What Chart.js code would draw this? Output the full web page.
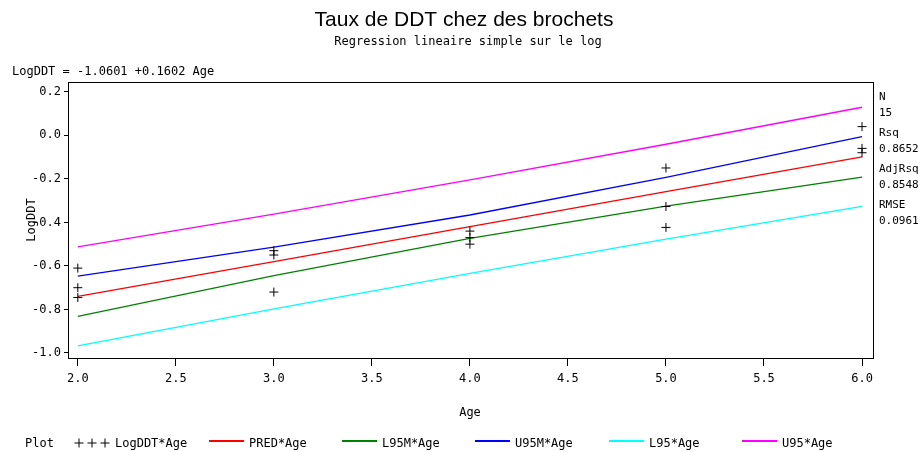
<!DOCTYPE html>
<html>
<head>
<meta charset="utf-8">
<script src="https://cdn.jsdelivr.net/npm/chart.js@4"></script>
<style>
  body { margin: 0; background: #fff; }
  #wrap { width: 920px; height: 452px; }
</style>
</head>
<body>
<div id="wrap"><canvas id="chart" width="920" height="452"></canvas></div>
<script>
var ages = [2, 2, 2, 3, 3, 3, 4, 4, 4, 5, 5, 5, 6, 6, 6];
var logDDT = [-0.61, -0.70, -0.745, -0.53, -0.55, -0.72, -0.44, -0.47, -0.50, -0.15, -0.327, -0.423, 0.04, -0.06, -0.08];

var fitAges = [2, 3, 4, 5, 6];
var pred = [-0.740, -0.580, -0.419, -0.259, -0.099];
var l95m = [-0.832, -0.645, -0.473, -0.325, -0.192];
var u95m = [-0.647, -0.514, -0.366, -0.193, -0.006];
var l95 = [-0.967, -0.797, -0.634, -0.477, -0.326];
var u95 = [-0.512, -0.362, -0.205, -0.041, 0.129];

var xTicks = [2.0, 2.5, 3.0, 3.5, 4.0, 4.5, 5.0, 5.5, 6.0];
var yTicks = [-1.0, -0.8, -0.6, -0.4, -0.2, 0.0, 0.2];

var statNames = ['N', 'Rsq', 'AdjRsq', 'RMSE'];
var statValues = ['15', '0.8652', '0.8548', '0.0961'];

var mono = '"DejaVu Sans Mono", monospace';

function toPoints(xs, ys) {
  return xs.map((x, i) => ({x: x, y: ys[i]}));
}

function fitLine(label, ys, color) {
  return {
    type: 'line',
    label: label,
    data: toPoints(fitAges, ys),
    borderColor: color,
    borderWidth: 1.3,
    pointRadius: 0,
    fill: false,
    tension: 0
  };
}

var legendItems = [
  {label: 'PRED*Age', color: '#ff0000', x: 209},
  {label: 'L95M*Age', color: '#008000', x: 342},
  {label: 'U95M*Age', color: '#0000ff', x: 475},
  {label: 'L95*Age', color: '#00ffff', x: 609},
  {label: 'U95*Age', color: '#ff00ff', x: 742}
];

function drawCross(ctx, x, y, r) {
  ctx.beginPath();
  ctx.moveTo(x - r, y);
  ctx.lineTo(x + r, y);
  ctx.moveTo(x, y - r);
  ctx.lineTo(x, y + r);
  ctx.stroke();
}

var decor = {
  id: 'decor',
  afterDraw: function(chart) {
    var ctx = chart.ctx;
    var a = chart.chartArea;
    ctx.save();
    ctx.strokeStyle = '#000';
    ctx.lineWidth = 1;
    ctx.strokeRect(Math.round(a.left) + 0.5, Math.round(a.top) + 0.5,
      Math.round(a.right - a.left), Math.round(a.bottom - a.top));

    ctx.fillStyle = '#000';
    ctx.textBaseline = 'middle';
    ctx.textAlign = 'center';
    ctx.font = '21px "Liberation Sans", Arial, sans-serif';
    ctx.fillText('Taux de DDT chez des brochets', 464, 20);
    ctx.font = '12px ' + mono;
    ctx.fillText('Regression lineaire simple sur le log', 468, 42);
    ctx.fillText('Age', 470, 413);

    ctx.textAlign = 'left';
    ctx.fillText('LogDDT = -1.0601 +0.1602 Age', 12, 72);

    ctx.save();
    ctx.translate(32, 220);
    ctx.rotate(-Math.PI / 2);
    ctx.textAlign = 'center';
    ctx.fillText('LogDDT', 0, 0);
    ctx.restore();

    var ly = 444;
    ctx.fillText('Plot', 25, ly);
    drawCross(ctx, 79, ly - 1, 4.5);
    drawCross(ctx, 92, ly - 1, 4.5);
    drawCross(ctx, 105, ly - 1, 4.5);
    ctx.fillText('LogDDT*Age', 115, ly);
    ctx.lineWidth = 2;
    legendItems.forEach(function(item) {
      ctx.strokeStyle = item.color;
      ctx.beginPath();
      ctx.moveTo(item.x, ly - 3);
      ctx.lineTo(item.x + 35, ly - 3);
      ctx.stroke();
      ctx.fillText(item.label, item.x + 40, ly);
    });

    ctx.font = '11px ' + mono;
    for (var i = 0; i < statNames.length; i++) {
      ctx.fillText(statNames[i], 879, 97 + i * 36);
      ctx.fillText(statValues[i], 879, 113 + i * 36);
    }
    ctx.restore();
  }
};

var ctx = document.getElementById('chart');
var myChart = new Chart(ctx, { // eslint-disable-line
  type: 'scatter',
  data: {
    datasets: [
      {
        label: 'LogDDT*Age',
        data: toPoints(ages, logDDT),
        pointStyle: 'cross',
        pointRadius: 4.5,
        borderColor: '#000',
        borderWidth: 1
      },
      fitLine('PRED*Age', pred, '#ff0000'),
      fitLine('L95M*Age', l95m, '#008000'),
      fitLine('U95M*Age', u95m, '#0000ff'),
      fitLine('L95*Age', l95, '#00ffff'),
      fitLine('U95*Age', u95, '#ff00ff')
    ]
  },
  options: {
    responsive: false,
    animation: false,
    layout: {padding: {left: 0, right: 47, top: 82, bottom: 54}},
    plugins: {
      legend: {display: false},
      title: {display: false},
      tooltip: {enabled: false}
    },
    scales: {
      x: {
        type: 'linear',
        min: 1.95,
        max: 6.056,
        afterBuildTicks: function(scale) {
          scale.ticks = xTicks.map(v => ({value: v}));
        },
        afterFit: function(scale) {
          scale.height = 40;
        },
        grid: {drawOnChartArea: false, tickLength: 8, color: '#000', tickColor: '#000'},
        border: {color: '#000'},
        ticks: {
          color: '#000',
          padding: 6,
          maxRotation: 0,
          font: {family: mono, size: 12},
          callback: v => v.toFixed(1)
        }
      },
      y: {
        type: 'linear',
        min: -1.023,
        max: 0.245,
        afterBuildTicks: function(scale) {
          scale.ticks = yTicks.map(v => ({value: v}));
        },
        afterFit: function(scale) {
          scale.width = 68;
        },
        grid: {drawOnChartArea: false, tickLength: 4, color: '#000', tickColor: '#000'},
        border: {color: '#000'},
        ticks: {
          color: '#000',
          padding: 3,
          font: {family: mono, size: 12},
          callback: v => v.toFixed(1)
        }
      }
    }
  },
  plugins: [decor]
});
</script>
</body>
</html>
